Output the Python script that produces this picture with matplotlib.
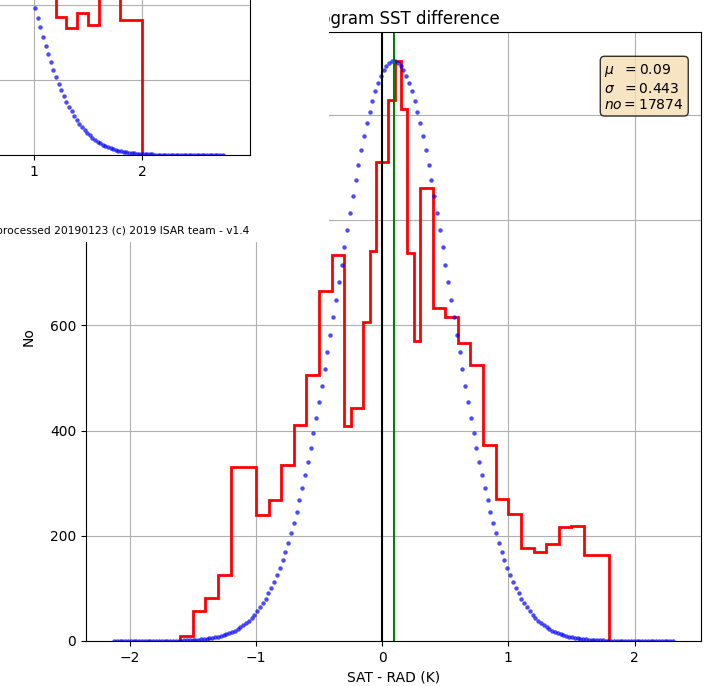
"""
Histogram of SAT - RAD SST difference with fitted normal curve,
partly covered by another window (top-left).
"""
import numpy as np
import matplotlib
matplotlib.use("Agg")
import matplotlib.pyplot as plt

# ---------------------------------------------------------------------------
# Data
# ---------------------------------------------------------------------------

BIN_EDGES = [-1.6, -1.5, -1.4, -1.3, -1.2, -1.1, -1.0, -0.9, -0.8, -0.7,
             -0.6, -0.5, -0.4, -0.3, -0.25, -0.15, -0.1, -0.05, 0.05, 0.1,
             0.15, 0.2, 0.25, 0.3, 0.4, 0.5, 0.6, 0.7, 0.8, 0.9,
             1.0, 1.1, 1.2, 1.3, 1.4, 1.5, 1.6, 1.8]
COUNTS = [10, 57, 81, 126, 330, 330, 240, 268, 334, 410,
          506, 665, 735, 408, 444, 607, 741, 911, 1028, 1103,
          1012, 737, 571, 861, 633, 616, 566, 524, 373, 270,
          241, 177, 169, 184, 216, 218, 163]

MU = 0.09
SIGMA = 0.443
N_OBS = 17874
N_FIT = 200

# the other (covering) window: only its lower right corner is visible
BACK_EDGES = [0.6, 0.7, 0.8, 0.9, 1.0, 1.1, 1.2, 1.3, 1.4, 1.5, 1.6, 1.7, 1.8, 2.0]
BACK_COUNTS = [760, 700, 640, 600, 560, 470, 369, 339, 380, 347, 520, 480, 360]
BACK_MU = 0.347
BACK_SIGMA = 0.48
BACK_PEAK = 1021
BACK_XTICKS = [1, 2]

FOOTER = "processed 20190123 (c) 2019 ISAR team - v1.4"

W, H = 712, 686


def fig_rect(x0, y0, x1, y1):
    """pixel box (top-left origin) -> figure fraction [l, b, w, h]"""
    return [x0 / W, 1 - y1 / H, (x1 - x0) / W, (y1 - y0) / H]


def gauss_curve(mu, sigma, peak, n):
    x = np.linspace(mu - 5 * sigma, mu + 5 * sigma, n)
    return x, peak * np.exp(-(x - mu) ** 2 / (2 * sigma ** 2))


fig = plt.figure(figsize=(W / 100, H / 100), dpi=100)

# ---------------------------------------------------------------------------
# Main histogram
# ---------------------------------------------------------------------------
ax = fig.add_axes(fig_rect(86, 32, 701, 641))
ax.stairs(COUNTS, BIN_EDGES, color="red", linewidth=2)
gx, gy = gauss_curve(MU, SIGMA, max(COUNTS), N_FIT)
ax.plot(gx, gy, "o", color="blue", alpha=0.7, markersize=3.2, markeredgewidth=0)
ax.axvline(0, color="k", linewidth=1.5)
ax.axvline(MU, color="g", linewidth=1.5)
ax.set_ylim(bottom=0)
ax.grid(True)
ax.set_axisbelow(True)
ax.set_xlabel("SAT - RAD (K)")
ax.set_ylabel("No")
ax.set_title("Histogram SST difference")

textstr = "$\\mu\\ \\ =%.2f$\n$\\sigma\\ \\ =%.3f$\n$no=%d$" % (MU, SIGMA, N_OBS)
ax.text(0.843, 0.95, textstr, transform=ax.transAxes, fontsize=10,
        va="top", ha="left",
        bbox=dict(boxstyle="round", facecolor="wheat", alpha=0.8))

# ---------------------------------------------------------------------------
# Covering window (top-left)
# ---------------------------------------------------------------------------
cover = fig.add_axes(fig_rect(0, 0, 329, 242), zorder=5)
cover.set_facecolor("white")
cover.set_xticks([])
cover.set_yticks([])
for sp in cover.spines.values():
    sp.set_visible(False)
cover.text(249 / 329, 1 - 231 / 242, FOOTER, transform=cover.transAxes,
           ha="right", va="center", fontsize=7.7)

back = fig.add_axes(fig_rect(-398, -454, 250, 155), zorder=6)
back.stairs(BACK_COUNTS, BACK_EDGES, color="red", linewidth=2)
bx, by = gauss_curve(BACK_MU, BACK_SIGMA, BACK_PEAK, N_FIT)
back.plot(bx, by, "o", color="blue", alpha=0.7, markersize=3.2, markeredgewidth=0)
back.set_xlim(-3, 3)
back.set_ylim(0, 1624)
back.set_xticks(BACK_XTICKS)
back.set_yticks(np.arange(0, 1601, 200))
back.tick_params(axis="y", labelleft=False)
back.grid(True)
back.set_axisbelow(True)

fig.savefig("out.png", dpi=100)
